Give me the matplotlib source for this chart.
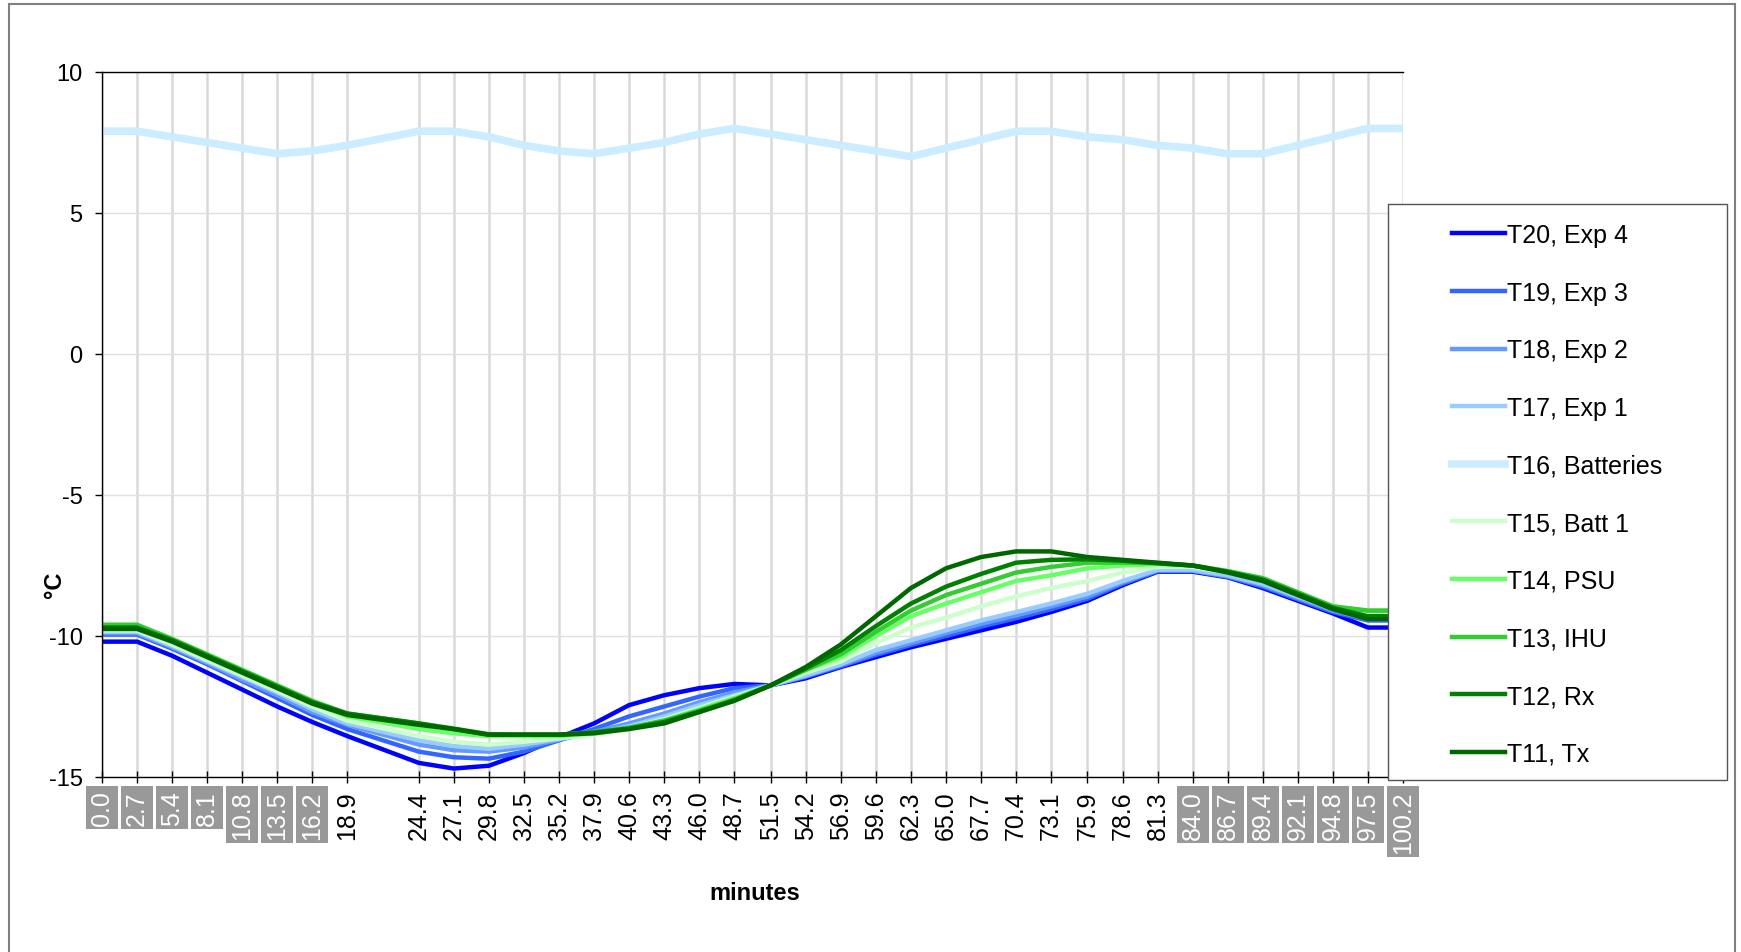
import matplotlib
matplotlib.use('Agg')
import matplotlib.pyplot as plt
from matplotlib.patches import Rectangle

plt.rcParams['font.family'] = ['Liberation Sans', 'DejaVu Sans']
plt.rcParams['font.size'] = 17
plt.rcParams['axes.unicode_minus'] = False

# sample times (minutes)
times = [0.0, 2.7, 5.4, 8.1, 10.8, 13.5, 16.2, 18.9, 24.4, 27.1, 29.8, 32.5,
         35.2, 37.9, 40.6, 43.3, 46.0, 48.7, 51.5, 54.2, 56.9, 59.6, 62.3,
         65.0, 67.7, 70.4, 73.1, 75.9, 78.6, 81.3, 84.0, 86.7, 89.4, 92.1,
         94.8, 97.5, 100.2]

# temperatures (deg C)
t20 = [-10.2, -10.2, -10.7, -11.3, -11.9, -12.5, -13.05, -13.55, -14.5, -14.7,
       -14.6, -14.15, -13.6, -13.1, -12.45, -12.1, -11.85, -11.7, -11.75,
       -11.5, -11.1, -10.75, -10.4, -10.1, -9.8, -9.5, -9.15, -8.75, -8.2,
       -7.72, -7.72, -7.92, -8.3, -8.75, -9.2, -9.7, -9.7]
t19 = [-9.95, -9.95, -10.45, -11.0, -11.6, -12.2, -12.8, -13.3, -14.1, -14.3,
       -14.35, -14.1, -13.7, -13.3, -12.85, -12.5, -12.15, -11.85, -11.75,
       -11.45, -11.07, -10.67, -10.32, -10.0, -9.67, -9.37, -9.05, -8.68,
       -8.15, -7.7, -7.7, -7.9, -8.25, -8.7, -9.15, -9.45, -9.45]
t18 = [-9.9, -9.9, -10.4, -10.95, -11.55, -12.1, -12.7, -13.15, -13.85, -14.05,
       -14.1, -13.95, -13.68, -13.4, -13.1, -12.75, -12.35, -12.0, -11.75,
       -11.42, -11.03, -10.6, -10.25, -9.9, -9.57, -9.27, -8.95, -8.6, -8.1,
       -7.67, -7.68, -7.88, -8.2, -8.65, -9.1, -9.4, -9.4]
t17 = [-9.85, -9.85, -10.35, -10.9, -11.45, -12.0, -12.6, -13.1, -13.7, -13.9,
       -14.0, -13.85, -13.65, -13.45, -13.2, -12.85, -12.45, -12.1, -11.75,
       -11.4, -11.0, -10.5, -10.15, -9.8, -9.45, -9.15, -8.85, -8.5, -8.05,
       -7.65, -7.65, -7.85, -8.15, -8.6, -9.05, -9.35, -9.35]
t16 = [7.9, 7.9, 7.7, 7.5, 7.3, 7.1, 7.2, 7.4, 7.9, 7.9, 7.7, 7.4, 7.2, 7.1,
       7.3, 7.5, 7.8, 8.0, 7.8, 7.6, 7.4, 7.2, 7.0, 7.3, 7.6, 7.9, 7.9, 7.7,
       7.6, 7.4, 7.3, 7.1, 7.1, 7.4, 7.7, 8.0, 8.0]
t15 = [-9.8, -9.8, -10.3, -10.85, -11.4, -11.95, -12.5, -13.0, -13.55, -13.75,
       -13.85, -13.75, -13.62, -13.5, -13.25, -12.95, -12.55, -12.15, -11.75,
       -11.3, -10.9, -10.25, -9.7, -9.35, -8.95, -8.6, -8.3, -8.05, -7.75,
       -7.55, -7.55, -7.75, -8.0, -8.5, -9.0, -9.2, -9.2]
t14 = [-9.65, -9.65, -10.15, -10.7, -11.25, -11.8, -12.35, -12.85, -13.3,
       -13.45, -13.55, -13.55, -13.55, -13.45, -13.25, -13.0, -12.6, -12.2,
       -11.75, -11.2, -10.75, -10.0, -9.3, -8.85, -8.45, -8.05, -7.85, -7.6,
       -7.5, -7.45, -7.5, -7.7, -7.95, -8.45, -8.95, -9.1, -9.1]
t13 = [-9.6, -9.6, -10.1, -10.65, -11.2, -11.75, -12.3, -12.75, -13.1, -13.28,
       -13.48, -13.5, -13.5, -13.4, -13.25, -13.0, -12.65, -12.25, -11.75,
       -11.2, -10.65, -9.85, -9.1, -8.55, -8.15, -7.75, -7.55, -7.4, -7.4,
       -7.42, -7.5, -7.7, -7.95, -8.45, -8.95, -9.1, -9.1]
t12 = [-9.7, -9.7, -10.15, -10.7, -11.25, -11.8, -12.35, -12.75, -13.1, -13.3,
       -13.5, -13.5, -13.5, -13.42, -13.28, -13.05, -12.68, -12.28, -11.75,
       -11.15, -10.5, -9.65, -8.85, -8.25, -7.8, -7.4, -7.3, -7.28, -7.33,
       -7.42, -7.5, -7.72, -8.0, -8.5, -9.0, -9.3, -9.3]
t11 = [-9.75, -9.75, -10.2, -10.75, -11.3, -11.85, -12.4, -12.8, -13.15, -13.3,
       -13.5, -13.5, -13.5, -13.45, -13.3, -13.1, -12.7, -12.3, -11.75, -11.1,
       -10.3, -9.3, -8.3, -7.6, -7.2, -7.0, -7.0, -7.2, -7.3, -7.4, -7.5,
       -7.75, -8.05, -8.55, -9.05, -9.4, -9.4]

names = ['T20, Exp 4', 'T19, Exp 3', 'T18, Exp 2', 'T17, Exp 1', 'T16, Batteries',
         'T15, Batt 1', 'T14, PSU', 'T13, IHU', 'T12, Rx', 'T11, Tx']
series = [t20, t19, t18, t17, t16, t15, t14, t13, t12, t11]
colors = ['#0000FF', '#3366FF', '#6699FF', '#99CCFF', '#CCECFF',
          '#CCFFCC', '#66FF66', '#33CC33', '#008000', '#006600']
widths = [3.2, 3.2, 3.2, 3.2, 5.5, 3.2, 3.2, 3.2, 3.2, 3.2]

# labels drawn on a grey box
boxed = ['0.0', '2.7', '5.4', '8.1', '10.8', '13.5', '16.2',
         '84.0', '86.7', '89.4', '92.1', '94.8', '97.5', '100.2']

W, H = 1741, 953
fig = plt.figure(figsize=(W / 100, H / 100), dpi=100)
ax = fig.add_axes([102 / W, 1 - 778 / H, 1301 / W, 705 / H])

lines = []
for y, name, c, lw in zip(series, names, colors, widths):
    ln, = ax.plot(times, y, color=c, lw=lw, label=name, solid_joinstyle='round')
    lines.append(ln)

ax.set_xlim(times[0], times[-1])
ax.set_ylim(-15, 10)
ax.set_yticks([-15, -10, -5, 0, 5, 10])
ax.set_xticks(times)
ax.set_xticklabels([f'{t:.1f}' for t in times], rotation=90, fontsize=18)

ax.set_axisbelow(True)
ax.grid(axis='x', color='#D9D9D9', lw=1.8)
ax.grid(axis='y', color='#E0E0E0', lw=1.0)

ax.spines['right'].set_visible(False)
for s in ['left', 'bottom', 'top']:
    ax.spines[s].set_color('black')
    ax.spines[s].set_linewidth(1.0)

ax.tick_params(axis='x', direction='inout', length=9, width=1, pad=5)
ax.tick_params(axis='y', direction='out', length=5, width=1, pad=9)

for lab in ax.get_xticklabels():
    if lab.get_text() in boxed:
        lab.set_color('white')
        lab.set_bbox(dict(boxstyle='square,pad=0.16', facecolor='#999999',
                          edgecolor='none'))

fig.text(54 / W, 1 - 585 / H, '°C', rotation=90, fontweight='bold',
         ha='center', va='center')
fig.text(755 / W, 1 - 894 / H, 'minutes', fontweight='bold',
         ha='center', va='center')

# legend box
fig.add_artist(Rectangle((1388 / W, 1 - 781 / H), 339 / W, 576 / H,
                         transform=fig.transFigure, facecolor='white',
                         edgecolor='#555555', lw=1.0, zorder=3))
fig.legend(lines, names, loc='upper left',
           bbox_to_anchor=(1452 / W, 1 - 224 / H), frameon=False,
           borderpad=0, borderaxespad=0, handlelength=2.1,
           handletextpad=0.1, labelspacing=1.345, fontsize=18)

# outer chart border
fig.add_artist(Rectangle((9 / W, -0.01), 1726 / W, 1 - 5 / H + 0.01,
                         transform=fig.transFigure, fill=False,
                         edgecolor='#808080', lw=1.5, zorder=4))

fig.savefig('out.png', dpi=100)
